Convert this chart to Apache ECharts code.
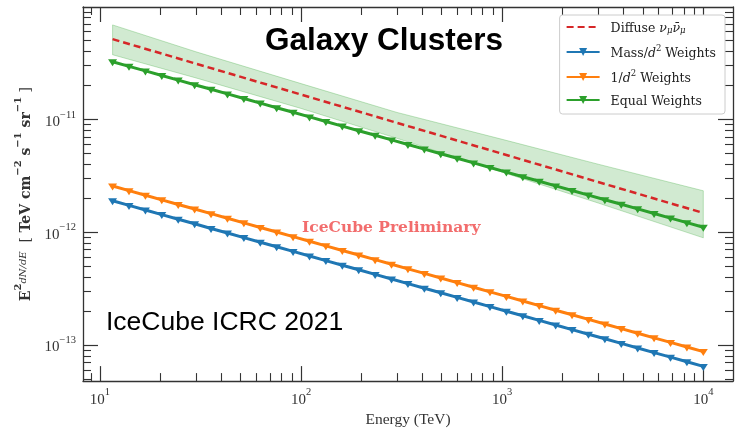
<!DOCTYPE html>
<html>
<head>
<meta charset="utf-8">
<script src="https://cdn.jsdelivr.net/npm/echarts@6/dist/echarts.min.js"></script>
<style>
  html, body { margin: 0; padding: 0; background: #fff; }
  #chart { width: 740px; height: 433px; }
</style>
</head>
<body>
<div id="chart"></div>
<script>
// Neutrino energies (TeV) at which the stacked source fluxes are evaluated
const energy = [11.55, 13.94, 16.82, 20.29, 24.49, 29.55, 35.66, 43.03, 51.93, 62.66,
  75.60, 91.23, 110.1, 132.8, 160.3, 193.4, 233.4, 281.6, 339.8, 410.1,
  494.8, 597.1, 720.5, 869.5, 1049, 1266, 1528, 1844, 2225, 2685,
  3240, 3909, 4717, 5692, 6869, 8288, 10000];

// E^2 dN/dE upper limits (TeV cm^-2 s^-1 sr^-1) for each weighting scheme
const massWeights = [1.897e-12, 1.727e-12, 1.572e-12, 1.431e-12, 1.303e-12, 1.186e-12, 1.079e-12, 9.827e-13, 8.945e-13, 8.143e-13,
  7.414e-13, 6.748e-13, 6.143e-13, 5.592e-13, 5.091e-13, 4.635e-13, 4.219e-13, 3.842e-13, 3.497e-13, 3.184e-13,
  2.898e-13, 2.638e-13, 2.402e-13, 2.186e-13, 1.990e-13, 1.812e-13, 1.649e-13, 1.501e-13, 1.367e-13, 1.244e-13,
  1.133e-13, 1.031e-13, 9.386e-14, 8.545e-14, 7.779e-14, 7.081e-14, 6.446e-14];

const invDistWeights = [2.565e-12, 2.335e-12, 2.125e-12, 1.935e-12, 1.761e-12, 1.603e-12, 1.459e-12, 1.329e-12, 1.210e-12, 1.101e-12,
  1.002e-12, 9.124e-13, 8.306e-13, 7.561e-13, 6.883e-13, 6.266e-13, 5.704e-13, 5.193e-13, 4.728e-13, 4.304e-13,
  3.918e-13, 3.567e-13, 3.247e-13, 2.956e-13, 2.691e-13, 2.450e-13, 2.230e-13, 2.030e-13, 1.848e-13, 1.682e-13,
  1.531e-13, 1.394e-13, 1.269e-13, 1.155e-13, 1.052e-13, 9.574e-14, 8.716e-14];

const equalWeights = [3.251e-11, 2.959e-11, 2.694e-11, 2.452e-11, 2.233e-11, 2.032e-11, 1.850e-11, 1.684e-11, 1.533e-11, 1.396e-11,
  1.271e-11, 1.157e-11, 1.053e-11, 9.585e-12, 8.726e-12, 7.943e-12, 7.231e-12, 6.584e-12, 5.994e-12, 5.456e-12,
  4.967e-12, 4.522e-12, 4.116e-12, 3.747e-12, 3.411e-12, 3.105e-12, 2.827e-12, 2.573e-12, 2.343e-12, 2.133e-12,
  1.941e-12, 1.767e-12, 1.609e-12, 1.465e-12, 1.333e-12, 1.214e-12, 1.105e-12];

// Diffuse muon-neutrino flux: best fit and its uncertainty band
const diffuseEnergy = [11.55, 30, 100, 300, 1000, 3000, 10000];
const diffuseFlux = [5.156e-11, 3.124e-11, 1.661e-11, 9.328e-12, 4.958e-12, 2.785e-12, 1.480e-12];
const diffuseUpper = [6.894e-11, 3.982e-11, 2.078e-11, 1.153e-11, 6.660e-12, 4.007e-12, 2.329e-12];
const diffuseLower = [3.747e-11, 2.334e-11, 1.251e-11, 6.797e-12, 3.406e-12, 1.814e-12, 8.906e-13];

// Axis ranges and tick positions
const xRange = [8.232, 14050];
const yRange = [4.772e-14, 9.94e-11];
const xMajorTicks = [10, 100, 1000, 10000];
const xMinorTicks = [9, 20, 30, 40, 50, 60, 70, 80, 90, 200, 300, 400, 500, 600, 700, 800, 900,
  2000, 3000, 4000, 5000, 6000, 7000, 8000, 9000];
const yMajorTicks = [1e-13, 1e-12, 1e-11];
const yMinorTicks = [5e-14, 6e-14, 7e-14, 8e-14, 9e-14,
  2e-13, 3e-13, 4e-13, 5e-13, 6e-13, 7e-13, 8e-13, 9e-13,
  2e-12, 3e-12, 4e-12, 5e-12, 6e-12, 7e-12, 8e-12, 9e-12,
  2e-11, 3e-11, 4e-11, 5e-11, 6e-11, 7e-11, 8e-11, 9e-11];

const SERIF = '"Liberation Serif", "DejaVu Serif", serif';
const WIDE_SERIF = '"DejaVu Serif", serif';
const INK = '#333';

const C_BLUE = '#1f77b4', C_ORANGE = '#ff7f0e', C_GREEN = '#2ca02c', C_RED = '#d62728';

const powRich = {
  b: { fontFamily: SERIF, fontSize: 15, color: INK, lineHeight: 20, verticalAlign: 'bottom' },
  s: { fontFamily: SERIF, fontSize: 10.5, color: INK, verticalAlign: 'top' }
};
function powLabel(v) {
  const e = Math.round(Math.log10(v));
  return '{b|10}{s|' + (e < 0 ? '\u2212' + (-e) : e) + '}';
}

function majorAxis(extra) {
  return Object.assign({
    type: 'log', logBase: 10, gridIndex: 0,
    axisLine: { show: true, onZero: false, lineStyle: { color: INK, width: 1.3 } },
    axisTick: { show: true, inside: true, length: 15, lineStyle: { color: INK, width: 1.2 } },
    splitLine: { show: false }
  }, extra);
}
function minorAxis(extra) {
  return Object.assign({
    type: 'log', logBase: 10, gridIndex: 0,
    axisLine: { show: false },
    axisTick: { show: true, inside: true, length: 8, lineStyle: { color: INK, width: 1.1 } },
    axisLabel: { show: false },
    splitLine: { show: false }
  }, extra);
}

const xAxes = [
  majorAxis({
    position: 'bottom', min: xRange[0], max: xRange[1],
    axisTick: { show: true, inside: true, length: 15, customValues: xMajorTicks, lineStyle: { color: INK, width: 1.2 } },
    axisLabel: { customValues: xMajorTicks, formatter: powLabel, rich: powRich, margin: 6 },
    name: 'Energy (TeV)', nameLocation: 'middle', nameGap: 27,
    nameTextStyle: { fontFamily: SERIF, fontSize: 15.5, color: INK }
  }),
  minorAxis({ position: 'bottom', min: xRange[0], max: xRange[1],
    axisTick: { show: true, inside: true, length: 8, customValues: xMinorTicks, lineStyle: { color: INK, width: 1.1 } } }),
  majorAxis({ position: 'top', min: xRange[0], max: xRange[1], axisLabel: { show: false },
    axisTick: { show: true, inside: true, length: 15, customValues: xMajorTicks, lineStyle: { color: INK, width: 1.2 } } }),
  minorAxis({ position: 'top', min: xRange[0], max: xRange[1],
    axisTick: { show: true, inside: true, length: 8, customValues: xMinorTicks, lineStyle: { color: INK, width: 1.1 } } })
];

const yAxes = [
  majorAxis({
    position: 'left', min: yRange[0], max: yRange[1],
    axisTick: { show: true, inside: true, length: 15, customValues: yMajorTicks, lineStyle: { color: INK, width: 1.2 } },
    axisLabel: { customValues: yMajorTicks, formatter: powLabel, rich: powRich, margin: 7 },
    name: '{e|E}{sup|2}{fr|dN/dE}{n|  [ }{b|TeV cm}{sup|\u22122}{b| s}{sup|\u22121}{b| sr}{sup|\u22121}{n| ]}',
    nameLocation: 'middle', nameRotate: 90, nameGap: 44,
    nameTextStyle: {
      rich: {
        e: { fontFamily: WIDE_SERIF, fontSize: 14, fontWeight: 'bold', color: INK, lineHeight: 20, verticalAlign: 'bottom' },
        b: { fontFamily: WIDE_SERIF, fontSize: 14, fontWeight: 'bold', color: INK, lineHeight: 20, verticalAlign: 'bottom' },
        n: { fontFamily: WIDE_SERIF, fontSize: 14, color: INK, lineHeight: 20, verticalAlign: 'bottom' },
        sup: { fontFamily: WIDE_SERIF, fontSize: 10, fontWeight: 'bold', color: INK, verticalAlign: 'top' },
        fr: { fontFamily: WIDE_SERIF, fontSize: 10, fontStyle: 'italic', color: INK, verticalAlign: 'middle' }
      }
    }
  }),
  minorAxis({ position: 'left', min: yRange[0], max: yRange[1],
    axisTick: { show: true, inside: true, length: 8, customValues: yMinorTicks, lineStyle: { color: INK, width: 1.1 } } }),
  majorAxis({ position: 'right', min: yRange[0], max: yRange[1], axisLabel: { show: false },
    axisTick: { show: true, inside: true, length: 15, customValues: yMajorTicks, lineStyle: { color: INK, width: 1.2 } } }),
  minorAxis({ position: 'right', min: yRange[0], max: yRange[1],
    axisTick: { show: true, inside: true, length: 8, customValues: yMinorTicks, lineStyle: { color: INK, width: 1.1 } } })
];

const NAME_DIFFUSE = 'Diffuse numu', NAME_MASS = 'Mass/d2 Weights', NAME_INV = '1/d2 Weights', NAME_EQ = 'Equal Weights';
const legendText = {};
legendText[NAME_DIFFUSE] = '{g|}{t|Diffuse }{i|\u03bd}{sub|\u03bc}{i|\u03bd\u0304}{sub|\u03bc}';
legendText[NAME_MASS] = '{g|}{t|Mass/}{i|d}{sup|2}{t| Weights}';
legendText[NAME_INV] = '{g|}{t|1/}{i|d}{sup|2}{t| Weights}';
legendText[NAME_EQ] = '{g|}{t|Equal Weights}';

function pairs(xs, ys) { return xs.map((x, i) => [x, ys[i]]); }

function weightSeries(name, color, values) {
  return {
    name: name, type: 'line', xAxisIndex: 0, yAxisIndex: 0,
    data: pairs(energy, values),
    symbol: 'triangle', symbolSize: [9, 7], symbolRotate: 180, symbolOffset: [0, 1], showAllSymbol: true,
    lineStyle: { color: color, width: 3 },
    itemStyle: { color: color },
    z: 5, animation: false, silent: true
  };
}

const chart = echarts.init(document.getElementById('chart'), null, { renderer: 'canvas' });
chart.setOption({
  animation: false,
  backgroundColor: '#fff',
  grid: { left: 83, right: 7, top: 7, bottom: 50, containLabel: false },
  xAxis: xAxes,
  yAxis: yAxes,
  legend: {
    data: [
      { name: NAME_DIFFUSE, itemStyle: { color: 'rgba(0,0,0,0)', opacity: 0, borderWidth: 0 } },
      NAME_MASS, NAME_INV, NAME_EQ
    ],
    orient: 'vertical', right: 15, top: 15,
    backgroundColor: '#fff', borderColor: '#ccc', borderWidth: 1, borderRadius: 3,
    padding: [6, 9, 6, 6], itemGap: 9, itemWidth: 33, itemHeight: 10,
    formatter: name => legendText[name],
    textStyle: {
      rich: {
        g: { width: 6 },
        t: { fontFamily: WIDE_SERIF, fontSize: 12.5, color: '#222', lineHeight: 16, verticalAlign: 'bottom' },
        i: { fontFamily: WIDE_SERIF, fontSize: 12.5, fontStyle: 'italic', color: '#222', lineHeight: 16, verticalAlign: 'bottom' },
        sup: { fontFamily: WIDE_SERIF, fontSize: 8.5, color: '#222', verticalAlign: 'top' },
        sub: { fontFamily: WIDE_SERIF, fontSize: 8.5, fontStyle: 'italic', color: '#222', verticalAlign: 'bottom' }
      }
    }
  },
  graphic: [
    { type: 'text', x: 384, y: 41, z: 10,
      style: { text: 'Galaxy Clusters', fontFamily: '"Liberation Sans", Arial, sans-serif', fontWeight: 'bold',
        fontSize: 31.5, fill: '#000', align: 'center', verticalAlign: 'middle' } },
    { type: 'text', x: 106, y: 323, z: 10,
      style: { text: 'IceCube ICRC 2021', fontFamily: '"Liberation Sans", Arial, sans-serif',
        fontSize: 26.5, fill: '#000', align: 'left', verticalAlign: 'middle' } },
    { type: 'text', x: 302, y: 228, z: 10,
      style: { text: 'IceCube Preliminary', fontFamily: '"DejaVu Serif", serif', fontWeight: 'bold',
        fontSize: 15.5, fill: '#f26d6d', align: 'left', verticalAlign: 'middle' } }
  ],
  series: [
    {
      name: 'Diffuse band', type: 'custom', xAxisIndex: 0, yAxisIndex: 0,
      data: [[diffuseEnergy[0], diffuseFlux[0]]],
      renderItem: function (params, api) {
        const upper = diffuseEnergy.map((e, i) => api.coord([e, diffuseUpper[i]]));
        const lower = diffuseEnergy.map((e, i) => api.coord([e, diffuseLower[i]])).reverse();
        return {
          type: 'polygon',
          shape: { points: upper.concat(lower) },
          style: { fill: 'rgba(44,160,44,0.22)', stroke: 'rgba(44,160,44,0.28)', lineWidth: 1 }
        };
      },
      z: 1, silent: true, animation: false
    },
    {
      name: NAME_DIFFUSE, type: 'line', xAxisIndex: 0, yAxisIndex: 0,
      data: pairs(diffuseEnergy, diffuseFlux),
      symbol: 'none',
      lineStyle: { color: C_RED, width: 2.5, type: [7, 4] },
      itemStyle: { color: C_RED },
      z: 3, animation: false, silent: true
    },
    weightSeries(NAME_MASS, C_BLUE, massWeights),
    weightSeries(NAME_INV, C_ORANGE, invDistWeights),
    weightSeries(NAME_EQ, C_GREEN, equalWeights)
  ]
});
</script>
</body>
</html>
